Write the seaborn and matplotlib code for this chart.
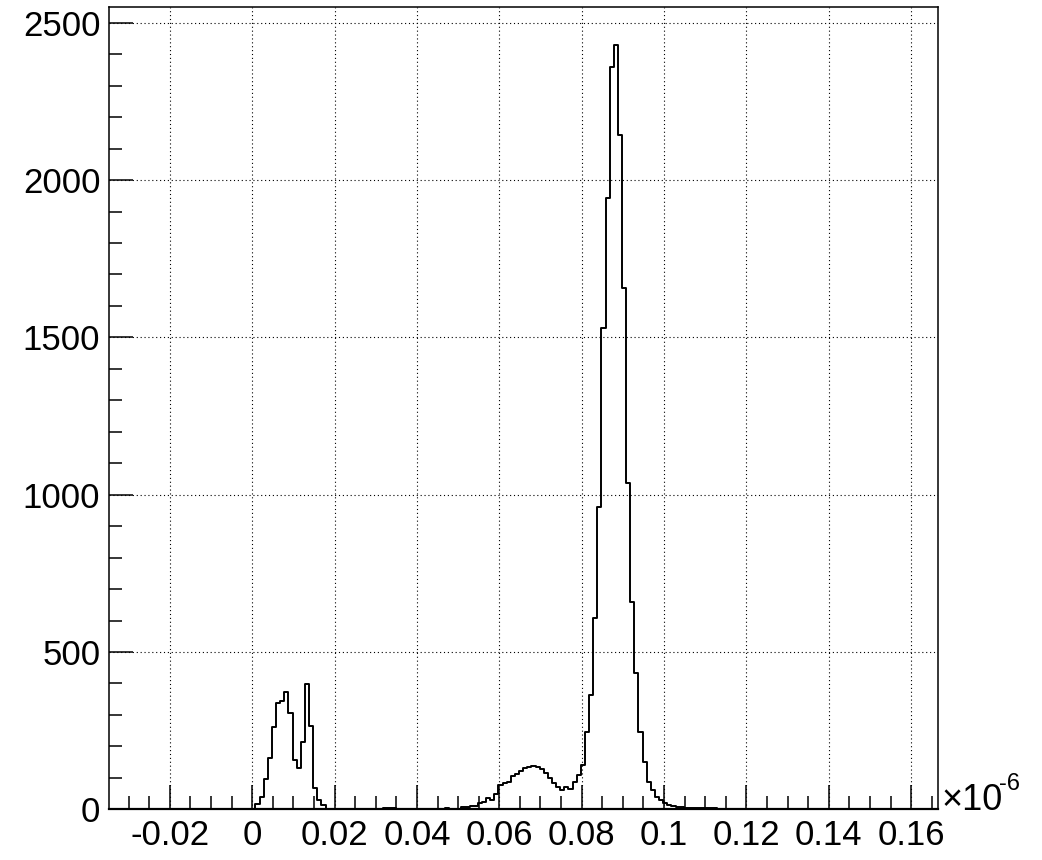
import matplotlib
matplotlib.use("Agg")
import matplotlib.pyplot as plt
from matplotlib.ticker import MultipleLocator, FuncFormatter
import seaborn as sns
import numpy as np
import pandas as pd

# histogram binning (units of 1e-6)
x_first_edge = -0.0342
x_last_edge = 0.1668
n_bins = 201
x_range = (-0.0347, 0.1666)
y_top = 2551

# low-time double peak, bins starting at 0.0008
low_counts = [16, 40, 95, 164, 263, 339, 344, 372, 307, 157, 130, 215, 398, 265, 69, 30, 14]
low_first_bin = 35

# broad bump + main peak + tail, bins starting at 0.0508
main_counts = [8, 8, 9, 10, 19, 24, 35, 30, 49, 77,
               85, 88, 106, 112, 122, 130, 135, 138, 134, 127,
               115, 100, 84, 72, 62, 70, 65, 88, 109, 141,
               247, 363, 607, 962, 1529, 1942, 2360, 2429, 2143, 1658,
               1036, 660, 432, 247, 151, 88, 61, 40, 30, 20,
               14, 12, 7, 6, 4, 3, 3, 4, 4, 3,
               4, 3]
main_first_bin = 85

# isolated small entries
sparse_bins = [61, 62, 66, 67, 68, 69, 81, 82, 83, 84, 147, 148, 149, 152, 153, 158, 159, 160, 168]
sparse_counts = [2, 2, 3, 3, 3, 2, 4, 1, 1, 1, 2, 2, 1, 2, 2, 1, 2, 2, 2]

y_major = [0, 500, 1000, 1500, 2000, 2500]
x_major = [-0.02, 0, 0.02, 0.04, 0.06, 0.08, 0.1, 0.12, 0.14, 0.16]

edges = np.linspace(x_first_edge, x_last_edge, n_bins + 1)
centers = 0.5 * (edges[:-1] + edges[1:])
counts = np.zeros(n_bins)
counts[low_first_bin:low_first_bin + len(low_counts)] = low_counts
counts[main_first_bin:main_first_bin + len(main_counts)] = main_counts
counts[sparse_bins] = sparse_counts
df = pd.DataFrame({"t": centers, "n": counts})

sns.set_style("white")
plt.rcParams["font.family"] = ["Liberation Sans", "DejaVu Sans"]
plt.rcParams["axes.unicode_minus"] = False

fig = plt.figure(figsize=(10.42, 8.6), dpi=100)
ax = fig.add_axes([109.3 / 1042, 1 - 809.3 / 860, (938.3 - 109.3) / 1042, (809.3 - 6.7) / 860])

sns.histplot(data=df, x="t", weights="n", bins=list(edges), element="step", fill=False,
             color="black", linewidth=1.4, ax=ax)

ax.set_xlim(*x_range)
ax.set_ylim(0, y_top)
ax.set_xlabel("")
ax.set_ylabel("")

ax.set_xticks(x_major)
ax.set_yticks(y_major)
ax.xaxis.set_minor_locator(MultipleLocator(0.005))
ax.yaxis.set_minor_locator(MultipleLocator(100))
ax.xaxis.set_major_formatter(FuncFormatter(lambda v, p: f"{v:g}"))

ax.tick_params(axis="both", which="both", direction="in", bottom=True, left=True,
               top=False, right=False, colors="black", width=1.1, labelsize=25)
ax.tick_params(axis="both", which="major", length=17)
ax.tick_params(axis="both", which="minor", length=9.5)
ax.tick_params(axis="x", which="major", pad=7)
ax.tick_params(axis="y", which="major", pad=6.5)

ax.grid(True, which="major", color="black", linestyle=(0, (1, 2.5)), linewidth=0.8)
ax.set_axisbelow(False)
for side, sp in ax.spines.items():
    sp.set_color("black")
    sp.set_linewidth(1.1)
ax.spines["bottom"].set_linewidth(1.6)

fig.text(941 / 1042, 1 - 810 / 860, "\u00d710", fontsize=26, color="black",
         ha="left", va="baseline")
fig.text(999 / 1042, 1 - 790 / 860, "-6", fontsize=17, color="black",
         ha="left", va="baseline")

fig.savefig("out.png", dpi=100, facecolor="white")
